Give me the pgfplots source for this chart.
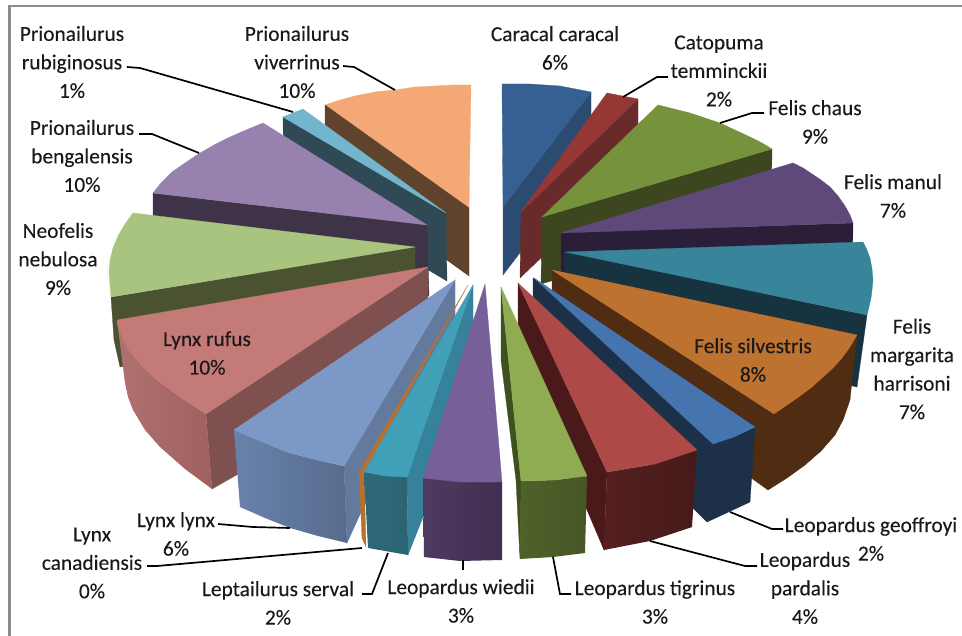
\documentclass[border=0pt]{standalone}
\usepackage{pgfplots}
\usepackage{fontspec}
\setmainfont[FakeBold=0.15]{Carlito}
\pgfplotsset{compat=1.18}
\newcommand{\face}[2]{\xglobal\definecolor{c#1}{HTML}{#1}\addplot[fill=c#1,draw=c#1,line width=0.3pt] coordinates {#2} --cycle;}
\newcommand{\gface}[3]{\xglobal\definecolor{c#1}{HTML}{#1}\xglobal\definecolor{c#2}{HTML}{#2}\addplot[left color=c#1,right color=c#2,draw=none] coordinates {#3} --cycle;}
\newcommand{\lead}[1]{\addplot[black,line width=1.7pt] coordinates {#1};}
\newcommand{\lab}[3]{\node[align=center,inner sep=0pt,text=black!90,font=\fontsize{21.4}{28.5}\selectfont] at (axis cs:#1,#2) {#3};}
\begin{document}
\begin{tikzpicture}
\path[use as bounding box] (0,0) rectangle (962pt,636pt);
\begin{axis}[hide axis,scale only axis,width=962pt,height=636pt,at={(0,0)},anchor=south west,
  xmin=0,xmax=962,ymin=0,ymax=636,y dir=reverse,clip=true]
% frame
\addplot[color=black!45,line width=2.5pt] coordinates {(9.5,636) (9.5,6) (962,6)};
% back left
\face{F4A875}{(325,105)(340,100)(355,96)(375,92)(395,90)(415,87)(435,86)(453,85)(471,85)(469,208)}
\face{60432C}{(325,105)(469,208)(469,276)(325,172)}
\face{2F4A54}{(283,117)(446,213)(447,281)(284,185)}
\face{73B5CC}{(283,117)(303,109)(446,213)}
\face{3F3347}{(153,193)(427,225)(429,296)(153,260)}
\face{9782AF}{(263,123)(246,130)(230,137)(214,145)(200,153)(185,163)(172,172)(161,183)(153,193)(427,225)}
\face{4A5230}{(415,247)(111,297)(114,340)(120,367)(415,330)}
\face{A9C47E}{(133,213)(125,224)(118,236)(113,248)(110,260)(109,272)(110,285)(111,297)(415,247)}
\face{7F5050}{(428,267)(206,414)(212,489)(240,473)(428,300)}
\gface{B07270}{9E6160}{(117,320)(121,335)(127,348)(140,364)(157,380)(180,397)(206,414)(212,489)(185,469)(160,447)(145,430)(133,410)(128,397)(125,383)}
\face{C47A76}{(428,267)(117,320)(121,335)(127,348)(140,364)(157,380)(180,397)(206,414)}
% back right
\face{2B4C70}{(591,92)(503,207)(503,275)(591,160)}
\face{376092}{(502,84)(530,84)(560,86)(591,92)(503,207)}
\face{692B2A}{(638,99)(521,212)(520,278)(638,165)}
\face{953735}{(607,93)(638,99)(521,212)}
\face{3C4720}{(772,149)(771,216)(541,284)(542,217)}
\face{76923C}{(658,105)(674,109)(690,113)(705,118)(720,123)(735,130)(750,137)(762,143)(772,149)(542,217)}
\face{2A1E38}{(853,223)(852,290)(561,300)(561,233)}
\face{5F497A}{(793,163)(803,168)(812,174)(821,180)(830,187)(838,196)(845,206)(850,215)(853,223)(561,233)}
\face{17333F}{(867,315)(857,387)(565,320)(565,252)}
\face{37849B}{(863,242)(867,250)(870,258)(872,269)(873,280)(872,290)(871,298)(869,307)(867,315)(565,252)}
\face{4F2C12}{(552,270)(857,335)(853,370)(850,400)(843,420)(835,435)(821,451)(805,465)(787,478)(768,490)(552,335)}
\face{BD7230}{(552,270)(857,335)(850,347)(842,358)(833,368)(823,377)(812,387)(800,396)(787,405)(774,414)}
% front left
\face{637A9C}{(455,280)(344,466)(347,543)(362,510)(455,340)}
\gface{6A82AB}{566C8E}{(234,430)(262,442)(290,453)(317,460)(344,466)(347,543)(318,536)(290,528)(265,518)(240,507)}
\face{7B98C6}{(455,280)(344,466)(317,460)(290,453)(262,442)(234,430)}
\face{B8702F}{(468,285)(359,472)(362,538)(366,547)(364,472)}
\face{36829A}{(473,285)(407,477)(408,555)(423,517)(473,350)}
\gface{2E6878}{2C6472}{(364,472)(407,477)(408,555)(368,548)}
\face{40A0B8}{(473,285)(407,477)(385,476)(364,472)}
% front centre / right
\gface{4F3A62}{3F2F50}{(423,478)(502,482)(502,560)(460,561)(424,557)}
\face{77609A}{(485,284)(502,482)(460,482)(423,478)}
\face{1C3048}{(533,278)(755,427)(750,502)(707,522)(533,350)}
\face{4674AF}{(534,278)(755,427)(734,437)(713,444)}
\face{4A1A1A}{(518,283)(607,472)(604,550)(587,510)(518,355)}
\gface{551F20}{471A1A}{(607,472)(655,464)(697,450)(692,527)(650,541)(604,550)}
\face{AD4A48}{(518,283)(697,450)(655,464)(607,472)}
\face{3F5020}{(501,287)(521,481)(520,559)(516,480)(501,360)}
\gface{4F6129}{465626}{(521,481)(555,480)(587,476)(585,553)(553,557)(520,559)}
\face{8FAC52}{(501,287)(587,476)(555,480)(521,481)}
% leaders
\lead{(127,67)(140,68)(293,112)}
\lead{(343,66)(354,67)(395,90)}
\lead{(623,97)(657,77)(668,77)}
\lead{(720,123)(752,113)(764,113)}
\lead{(139,134)(152,134)(199,153)}
\lead{(730,512)(772,529)(783,529)}
\lead{(650,541)(745,566)(757,566)}
\lead{(553,557)(560,594)(571,594)}
\lead{(463,560)(463,570)}
\lead{(388,553)(372,594)(362,594)}
\lead{(362,548)(157,566)(147,566)}
\lead{(218,524)(253,527)(290,528)}
% labels
\lab{72}{62}{Prionailurus\\rubiginosus\\1\%}
\lab{297}{62}{Prionailurus\\viverrinus\\10\%}
\lab{555}{48}{Caracal caracal\\6\%}
\lab{719}{71}{Catopuma\\temminckii\\2\%}
\lab{815}{122}{Felis chaus\\9\%}
\lab{893}{196}{Felis manul\\7\%}
\lab{912}{369}{Felis\\margarita\\harrisoni\\7\%}
\lab{753}{360}{Felis silvestris\\8\%}
\lab{871}{539}{Leopardus geoffroyi\\2\%}
\lab{805}{588}{Leopardus\\pardalis\\4\%}
\lab{655}{602}{Leopardus tigrinus\\3\%}
\lab{461}{601}{Leopardus wiedii\\3\%}
\lab{278}{603}{Leptailurus serval\\2\%}
\lab{92}{563}{Lynx\\canadiensis\\0\%}
\lab{176}{534}{Lynx lynx\\6\%}
\lab{207}{353}{Lynx rufus\\10\%}
\lab{58}{259}{Neofelis\\nebulosa\\9\%}
\lab{82}{156}{Prionailurus\\bengalensis\\10\%}
\end{axis}
\end{tikzpicture}
\end{document}
